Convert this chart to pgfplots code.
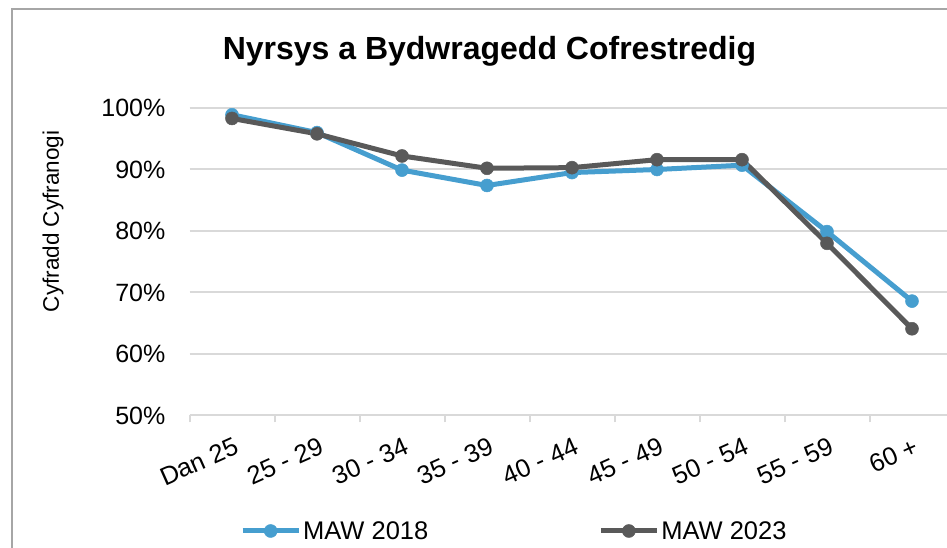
\documentclass[border=0pt]{standalone}
\usepackage{fontspec}
\setmainfont{Liberation Sans}
\usepackage{pgfplots}
\pgfplotsset{compat=1.18}
\definecolor{blueS}{RGB}{70,158,207}
\definecolor{grayS}{RGB}{89,89,89}
\definecolor{gridc}{RGB}{217,217,217}
\definecolor{framec}{RGB}{166,166,166}
\begin{document}
\begin{tikzpicture}
\useasboundingbox (0,0) rectangle (947pt,548pt);
\clip (0,0) rectangle (947pt,548pt);
\draw[framec, line width=2pt] (12pt,539pt) rectangle (1000pt,-20pt);
\node[font=\fontsize{32}{38}\selectfont\bfseries, anchor=base] at (489.5pt,488pt) {Nyrsys a Bydwragedd Cofrestredig};
\begin{axis}[
  at={(189.5pt,132.5pt)}, anchor=south west,
  scale only axis, width=765pt, height=307.5pt,
  xmin=-0.5, xmax=8.5, ymin=50, ymax=100,
  axis line style={draw=none},
  tick pos=left,
  ytick={50,60,...,100},
  yticklabels={50\%,60\%,70\%,80\%,90\%,100\%},
  yticklabel style={font=\fontsize{25}{30}\selectfont, anchor=east, inner sep=0pt, xshift=-24pt},
  ymajorgrids, grid style={gridc, line width=2pt},
  major tick length=0pt,
  minor tick length=7pt,
  tick align=outside,
  xtick={0,...,8},
  xticklabels={Dan 25, 25 - 29, 30 - 34, 35 - 39, 40 - 44, 45 - 49, 50 - 54, 55 - 59, 60 +},
  xticklabel style={font=\fontsize{25.5}{30}\selectfont, yshift=-21pt, xshift=1pt, rotate=24, anchor=north east, inner sep=0pt},
  minor xtick={-0.5,0.5,...,8.5},
  minor x tick style={gridc, line width=2pt},
  every axis y label/.style={at={(axis description cs:-0.1784,0.631)}, rotate=90, anchor=center, font=\fontsize{22.5}{27}\selectfont},
  ylabel={Cyfradd Cyfranogi},
  legend style={at={(axis description cs:0.066,-0.3756)}, anchor=west, draw=none, fill=none,
    font=\fontsize{25.5}{30}\selectfont, inner sep=0pt,
    /tikz/every odd column/.append style={column sep=0pt},
    /tikz/every even column/.append style={column sep=168pt}},
  legend columns=2,
  legend image code/.code={\draw[mark repeat=2, mark phase=2, #1] plot coordinates {(0pt,0pt) (28pt,0pt) (56pt,0pt)};},
]
\addplot[blueS, line width=5pt, mark=*, mark size=6.5pt, mark options={solid, line width=0.5pt, fill=blueS, draw=blueS}]
  coordinates {(0,98.9) (1,96.0) (2,89.9) (3,87.4) (4,89.5) (5,90.0) (6,90.7) (7,79.9) (8,68.6)};
\addlegendentry{MAW 2018}
\addplot[grayS, line width=5pt, mark=*, mark size=6.5pt, mark options={solid, line width=0.5pt, fill=grayS, draw=grayS}]
  coordinates {(0,98.3) (1,95.8) (2,92.2) (3,90.2) (4,90.3) (5,91.6) (6,91.6) (7,78.0) (8,64.1)};
\addlegendentry{MAW 2023}
\end{axis}
\end{tikzpicture}
\end{document}
